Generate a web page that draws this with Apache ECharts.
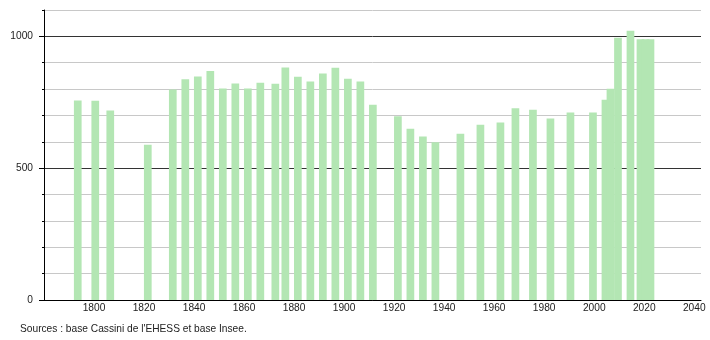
<!DOCTYPE html>
<html>
<head>
<meta charset="utf-8">
<script src="https://cdn.jsdelivr.net/npm/echarts@6/dist/echarts.min.js"></script>
<style>
html,body{margin:0;padding:0;background:#fff;}
#c{width:710px;height:340px;}
</style>
</head>
<body>
<div id="c"></div>
<script>
var years = [1793,1800,1806,1821,1831,1836,1841,1846,1851,1856,1861,1866,1872,1876,1881,1886,1891,1896,1901,1906,1911,1921,1926,1931,1936,1946,1954,1962,1968,1975,1982,1990,1999,2004,2006,2009,2014,2018,2020,2022];
var population = [757,756,719,589,798,837,848,869,802,821,802,824,820,882,847,829,859,881,839,829,741,697,650,620,598,631,665,673,727,722,688,711,711,760,801,995,1021,989,989,989];
var yTickLabels = [0,500,1000];
var sourceText = "Sources : base Cassini de l'EHESS et base Insee.";

var BAR_OFFSET = 0.5;
var data = years.map(function(y,i){ return [y + BAR_OFFSET, population[i]]; });

var chart = echarts.init(document.getElementById('c'), null, {renderer:'canvas'});
var font = 'Liberation Sans, Arial, sans-serif';
chart.setOption({
  animation:false,
  backgroundColor:'#fff',
  grid:{left:44,right:9,top:10,bottom:40,containLabel:false},
  xAxis:{
    type:'value', min:1780, max:2042.7, interval:20,
    axisLine:{show:true,lineStyle:{color:'#000',width:1}},
    axisTick:{show:false},
    splitLine:{show:false},
    axisLabel:{
      margin:3, fontSize:10.2, color:'#222', fontFamily:font,
      formatter:function(v){ return (v % 20 === 0 && v > 1780) ? String(v) : ''; }
    }
  },
  yAxis:[{
    type:'value', min:0, max:1100, interval:100,
    axisLine:{show:true,lineStyle:{color:'#000',width:1}},
    axisTick:{show:true,length:2,lineStyle:{color:'#000'}},
    axisLabel:{show:false},
    splitLine:{show:true,lineStyle:{color:['#333','#c8c8c8','#c8c8c8','#c8c8c8','#c8c8c8'],width:1}}
  },{
    type:'value', min:0, max:1100, position:'left', offset:0,
    axisLine:{show:false},
    axisTick:{show:true,length:5,customValues:yTickLabels,lineStyle:{color:'#000'}},
    axisLabel:{show:true,customValues:yTickLabels,margin:11,fontSize:10.2,color:'#222',fontFamily:font,
      formatter:function(v){ return String(v); }},
    splitLine:{show:false}
  }],
  series:[{
    type:'bar',
    data:data,
    barWidth:7.7,
    itemStyle:{color:'#b3e6b3'},
    yAxisIndex:0
  }],
  graphic:[{
    type:'text', left:20, top:324,
    style:{text:sourceText, font:'10.2px Liberation Sans, Arial, sans-serif', fill:'#222'}
  }]
});
</script>
</body>
</html>
